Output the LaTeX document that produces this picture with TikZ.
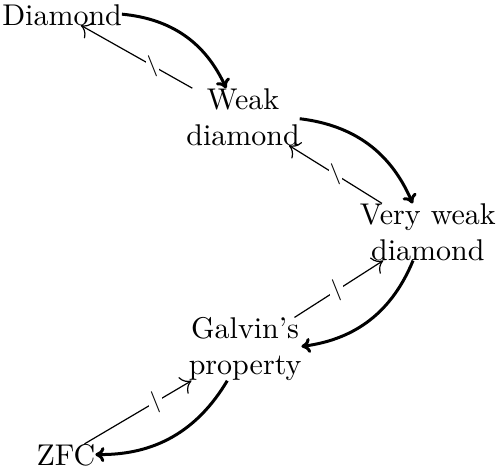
\documentclass[tikz,border=0pt]{standalone}
\usetikzlibrary{arrows.meta}
\begin{document}
\begin{tikzpicture}[x=1pt,y=1pt,
  txt/.style={inner sep=0pt, outer sep=0pt, font=\normalsize},
  two/.style={txt, align=center, anchor=north},
  strong/.style={-{Computer Modern Rightarrow[length=3pt,width=5pt]}, line width=1pt},
  weakarr/.style={-{Computer Modern Rightarrow[length=3.3pt,width=6.4pt]}, line width=0.4pt},
  notmark/.style={fill=white, inner sep=0pt, font=\scriptsize}]
\useasboundingbox (0,0) rectangle (165.33,-156.33);
\node[txt, anchor=base] (d) at (20.7,-8.33) {Diamond};
\node[two] (w) at (81,-29.4) {Weak\\diamond};
\node[two] (v) at (142.6,-67.8) {Very weak\\diamond};
\node[two] (g) at (81.7,-105.8) {Galvin's\\property};
\node[txt, anchor=base] (z) at (22,-155) {ZFC};
% strong implications
\draw[strong] (d) to[bend left=30] (w);
\draw[strong] (w) to[bend left=30] (v);
\draw[strong] (v) to[bend left=30] (g);
\draw[strong] (g) to[bend left=30] (z);
% non-implications
\draw[weakarr] (w) -- (d);
\draw[weakarr] (v) -- (w);
\draw[weakarr] (g) -- (v);
\draw[weakarr] (z) -- (g);
\path (d.center) -- node[notmark] (s1) {$\backslash$} (w.center);
\path (w.center) -- node[notmark] (s2) {$\backslash$} (v.center);
\path (g.center) -- node[notmark] (s3) {$\backslash$} (v.center);
\path (z.center) -- node[notmark] (s4) {$\backslash$} (g.center);
\end{tikzpicture}
\end{document}
